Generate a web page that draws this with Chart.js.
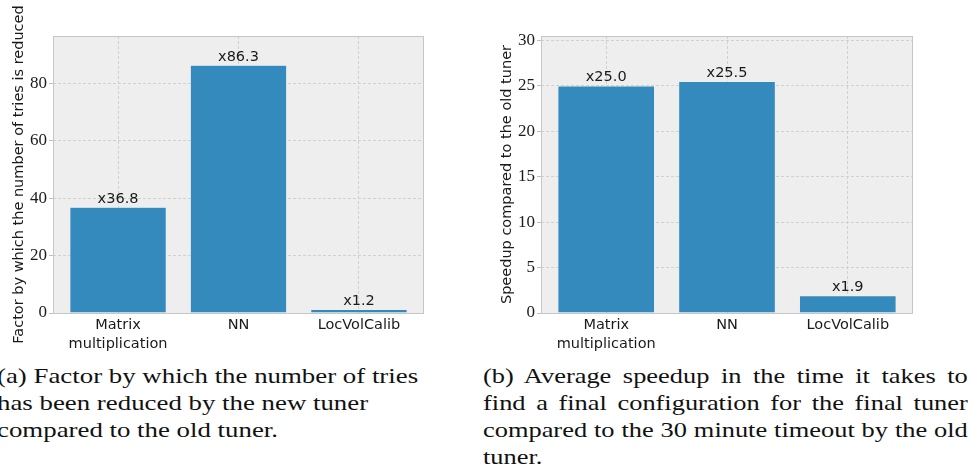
<!DOCTYPE html>
<html>
<head>
<meta charset="utf-8">
<script src="https://cdn.jsdelivr.net/npm/chart.js@4/dist/chart.umd.min.js"></script>
<style>
  body { margin: 0; background: #fff; width: 972px; height: 470px; overflow: hidden; position: relative; }
  canvas { position: absolute; top: 0; }
  .cap { position: absolute; font-family: "Liberation Serif", serif; font-size: 22px; line-height: 27px; color: #111;
         white-space: nowrap; transform: scaleX(1.22); transform-origin: 0 0; }
  .cap div { height: 27px; }
  .just { transform: scaleX(1.2); }
  .just div { text-align: justify; text-align-last: justify; }
  .just div.last { text-align-last: left; }
</style>
</head>
<body>
<canvas id="chartA" width="440" height="360" style="left:0px"></canvas>
<canvas id="chartB" width="492" height="360" style="left:480px"></canvas>

<div class="cap" style="left:-3px; top:362px; width:360px;">
  <div>(a) Factor by which the number of tries</div>
  <div>has been reduced by the new tuner</div>
  <div>compared to the old tuner.</div>
</div>
<div class="cap just" style="left:483px; top:362px; width:404px;">
  <div>(b) Average speedup in the time it takes to</div>
  <div>find a final configuration for the final tuner</div>
  <div>compared to the 30 minute timeout by the old</div>
  <div class="last">tuner.</div>
</div>

<script>
var categories = ['Matrix multiplication', 'NN', 'LocVolCalib'];
var triesReduced = [36.8, 86.3, 1.2];
var speedup = [25.0, 25.5, 1.9];
var ticksA = [0, 20, 40, 60, 80];
var ticksB = [0, 5, 10, 15, 20, 25, 30];
var titleA = 'Factor by which the number of tries is reduced';
var titleB = 'Speedup compared to the old tuner';

var barColor = '#348ABD';
var sansFont = '"DejaVu Sans", sans-serif';
var serifFont = '"Liberation Serif", serif';

// plot background + frame, matplotlib bmh look
var frame = {
  id: 'frame',
  beforeDraw: function(chart) {
    var a = chart.chartArea, ctx = chart.ctx;
    ctx.save();
    ctx.fillStyle = '#eeeeee';
    ctx.fillRect(a.left, a.top, a.right - a.left, a.bottom - a.top);
    ctx.restore();
  },
  afterDraw: function(chart) {
    var a = chart.chartArea, ctx = chart.ctx;
    ctx.save();
    ctx.strokeStyle = '#c6c6c6';
    ctx.lineWidth = 1;
    ctx.strokeRect(a.left + 0.5, a.top + 0.5, a.right - a.left - 1, a.bottom - a.top);
    ctx.restore();
  }
};

// "x36.8" labels on top of the bars
var barLabels = {
  id: 'barLabels',
  afterDatasetsDraw: function(chart) {
    var ctx = chart.ctx;
    var meta = chart.getDatasetMeta(0);
    ctx.save();
    ctx.font = '14.5px ' + sansFont;
    ctx.fillStyle = '#1a1a1a';
    ctx.textAlign = 'center';
    ctx.textBaseline = 'bottom';
    meta.data.forEach(function(bar, i) {
      var v = chart.data.datasets[0].data[i].y;
      ctx.fillText('x' + v.toFixed(1), bar.x, bar.y - 1);
    });
    ctx.restore();
  }
};

function makeChart(id, values, yTicks, yMax, yTitle, yWidth, titlePad, padRight) {
  var points = [];
  for (var i = 0; i < values.length; i++) {
    points.push({x: i, y: values[i]});
  }
  return new Chart(document.getElementById(id), {
    type: 'bar',
    data: {
      datasets: [{
        data: points,
        backgroundColor: barColor,
        borderColor: '#eeeeee',
        borderWidth: 0.5,
        barPercentage: 0.8,
        categoryPercentage: 1
      }]
    },
    options: {
      responsive: false,
      animation: false,
      layout: { padding: { top: 36, right: padRight, left: 0, bottom: 0 } },
      plugins: { legend: { display: false }, tooltip: { enabled: false } },
      scales: {
        x: {
          type: 'linear',
          offset: false,
          min: -0.54,
          max: 2.54,
          afterBuildTicks: function(s) {
            s.ticks = categories.map(function(c, i) { return {value: i}; });
          },
          afterFit: function(s) { s.height = 47; },
          border: { display: false, dash: [3, 2] },
          grid: { offset: false, color: '#d0d0d0', drawTicks: false },
          ticks: {
            padding: 3,
            autoSkip: false,
            maxRotation: 0,
            color: '#1a1a1a',
            font: { family: sansFont, size: 14.5, lineHeight: 1.3 },
            callback: function(v) {
              var c = categories[v];
              return c.indexOf(' ') > 0 ? c.split(' ') : c;
            }
          }
        },
        y: {
          min: 0,
          max: yMax,
          afterBuildTicks: function(s) {
            s.ticks = yTicks.map(function(v) { return {value: v}; });
          },
          afterFit: function(s) { s.width = yWidth; },
          border: { display: false, dash: [3, 2] },
          grid: { color: '#d0d0d0', tickLength: 4, tickBorderDash: [], tickColor: '#c0c0c0' },
          ticks: {
            padding: 2,
            color: '#1a1a1a',
            font: { family: serifFont, size: 17 }
          },
          title: {
            display: true,
            text: yTitle,
            color: '#1a1a1a',
            padding: { top: titlePad, bottom: 0 },
            font: { family: sansFont, size: 14.5 }
          }
        }
      }
    },
    plugins: [frame, barLabels]
  });
}

makeChart('chartA', triesReduced, ticksA, 96.5, titleA, 53, 10.3, 16);
makeChart('chartB', speedup, ticksB, 30.5, titleB, 61, 18.3, 59);
</script>
</body>
</html>
